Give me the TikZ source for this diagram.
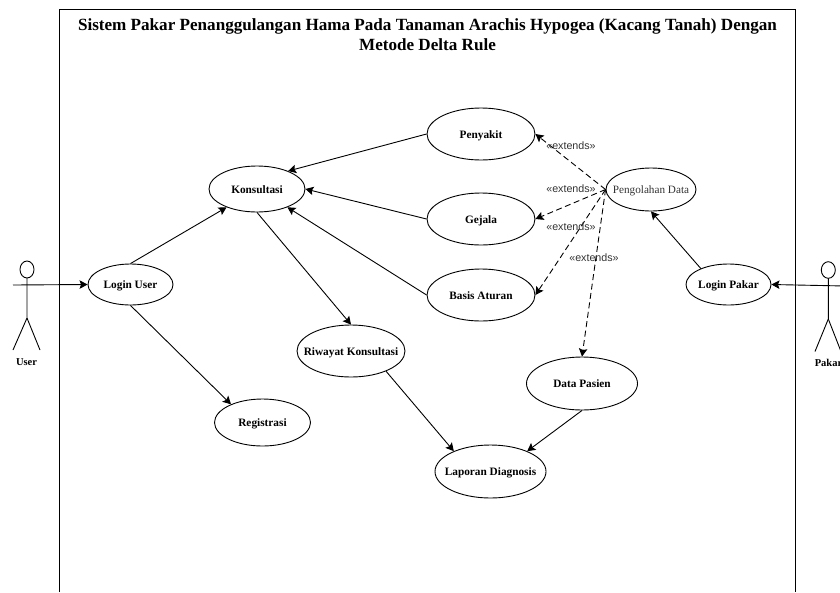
\documentclass[tikz,border=0pt]{standalone}
\usepackage{fontspec}
\setmainfont{Liberation Serif}
\newfontfamily\labelfont{Liberation Sans}
\usetikzlibrary{shapes.geometric,arrows.meta}

% label wider than the ellipse shape would normally allow
\newcommand{\uctext}[1]{\makebox[0pt]{#1}}

\tikzset{
  usecase/.style={draw=black,ellipse,inner sep=0pt,text height=10pt,text depth=2pt,font=\bfseries\fontsize{11.3}{13}\selectfont},
  extendlabel/.style={inner sep=0pt,text=black!80,font=\labelfont\fontsize{10.7}{12}\selectfont},
  actorname/.style={inner sep=0pt,font=\bfseries\fontsize{10.5}{12}\selectfont},
  assoc/.style={draw=black,-{Stealth[length=8pt,width=8.5pt,inset=1.5pt]}},
  extendline/.style={assoc,dash pattern=on 6pt off 3.5pt}
}

\begin{document}
\begin{tikzpicture}[x=1pt,y=-1pt,line width=0.9pt]
\useasboundingbox (0,0) rectangle (840,592);

% --- System boundary ---
\draw (59.5,592) -- (59.5,9.5) -- (795.7,9.5) -- (795.7,592);
\node[inner sep=0pt,align=center,font=\bfseries\fontsize{17.1}{20}\selectfont] (judul) at (427.5,35)
  {Sistem Pakar Penanggulangan Hama Pada Tanaman Arachis Hypogea (Kacang Tanah) Dengan\\Metode Delta Rule};

% --- Actor User ---
\draw (27,269.5) ellipse (7 and 8.5);
\draw (27,278) -- (27,318) -- (13,350);
\draw (27,318) -- (40,350);
\coordinate (tanganuser) at (13,285);
\node[actorname] (user) at (26.5,362.5) {User};

% --- Actor Pakar ---
\draw (828.3,270) ellipse (7 and 8.3);
\draw (828.3,278.3) -- (828.3,319) -- (815,351.5);
\draw (828.3,319) -- (841,351.5);
\coordinate (tanganpakar) at (845,286);
\node[actorname] (pakar) at (828.5,363) {Pakar};

% --- Use cases ---
\node[usecase,minimum width=85pt,minimum height=41pt] (loginuser) at (130.5,284.5) {\uctext{Login User}};
\node[usecase,minimum width=96pt,minimum height=46pt] (konsultasi) at (257,189) {\uctext{Konsultasi}};
\node[usecase,minimum width=108pt,minimum height=52pt] (penyakit) at (481,134) {\uctext{Penyakit}};
\node[usecase,minimum width=108pt,minimum height=52pt] (gejala) at (481,219) {\uctext{Gejala}};
\node[usecase,minimum width=108pt,minimum height=52pt] (basis) at (481,295) {\uctext{Basis Aturan}};
\node[usecase,minimum width=108pt,minimum height=52pt] (riwayat) at (351,351) {\uctext{Riwayat Konsultasi}};
\node[usecase,minimum width=96pt,minimum height=47pt] (registrasi) at (262.5,422.5) {\uctext{Registrasi}};
\node[usecase,minimum width=111pt,minimum height=53pt] (pasien) at (582,383.5) {\uctext{Data Pasien}};
\node[usecase,minimum width=111pt,minimum height=53pt] (laporan) at (490.5,471.5) {\uctext{Laporan Diagnosis}};
\node[usecase,minimum width=90pt,minimum height=43pt,font=\fontsize{11.2}{13}\selectfont,text=black!80] (pengolahan) at (651,189.5) {\uctext{Pengolahan Data}};
\node[usecase,minimum width=85pt,minimum height=41pt] (loginpakar) at (728.5,284.5) {\uctext{Login Pakar}};

% --- Associations ---
\draw[assoc] (tanganuser) -- (loginuser.west);
\draw[assoc] (loginuser.north) -- (konsultasi.211);
\draw[assoc] (loginuser.south) -- (registrasi.150);
\draw[assoc] (konsultasi.south) -- (riwayat.north);
\draw[assoc] (penyakit.west) -- (konsultasi.30);
\draw[assoc] (gejala.west) -- (konsultasi.east);
\draw[assoc] (basis.west) -- (konsultasi.329);
\draw[assoc] (riwayat.330) -- (laporan.151);
\draw[assoc] (pasien.south) -- (laporan.29);
\draw[assoc] (loginpakar.150) -- (pengolahan.south);
\draw[assoc] (tanganpakar) -- (loginpakar.east);

% --- Extends ---
\draw[extendline] (pengolahan.west) -- (penyakit.east);
\draw[extendline] (pengolahan.west) -- (gejala.east);
\draw[extendline] (pengolahan.west) -- (basis.east);
\draw[extendline] (pengolahan.west) -- (pasien.north);
\node[extendlabel] (ext1) at (571,146) {«extends»};
\node[extendlabel] (ext2) at (571,189) {«extends»};
\node[extendlabel] (ext3) at (571,227) {«extends»};
\node[extendlabel] (ext4) at (594,258) {«extends»};

\end{tikzpicture}
\end{document}
